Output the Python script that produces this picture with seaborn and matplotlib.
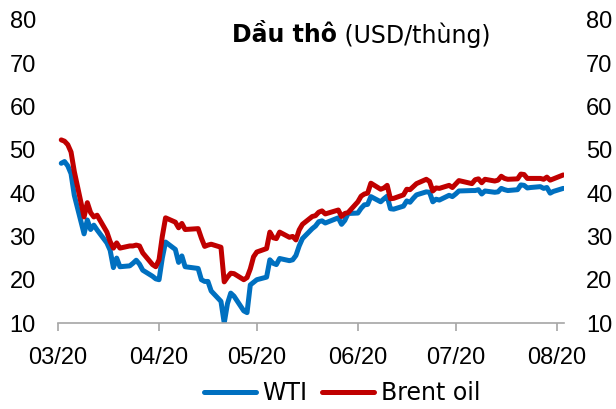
import pandas as pd
import matplotlib
matplotlib.use("Agg")
import matplotlib.pyplot as plt
import matplotlib.dates as mdates
import seaborn as sns

# trading days, Mar 2 - Aug 3 2020
dates = (
    ["2020-03-%02d" % d for d in [2, 3, 4, 5, 6, 9, 10, 11, 12, 13, 16, 17, 18, 19, 20, 23, 24, 25, 26, 27, 30, 31]]
    + ["2020-04-%02d" % d for d in [1, 2, 3, 6, 7, 8, 9, 13, 14, 15, 16, 17, 20, 21, 22, 23, 24, 27, 28, 29, 30]]
    + ["2020-05-%02d" % d for d in [1, 4, 5, 6, 7, 8, 11, 12, 13, 14, 15, 18, 19, 20, 21, 22, 26, 27, 28, 29]]
    + ["2020-06-%02d" % d for d in [1, 2, 3, 4, 5, 8, 9, 10, 11, 12, 15, 16, 17, 18, 19, 22, 23, 24, 25, 26, 29, 30]]
    + ["2020-07-%02d" % d for d in [1, 2, 6, 7, 8, 9, 10, 13, 14, 15, 16, 17, 20, 21, 22, 23, 24, 27, 28, 29, 30, 31]]
    + ["2020-08-03"]
)

wti = [
    46.9, 47.3, 46.3, 44.5, 39.5, 30.6, 33.8, 31.6, 32.6, 31.5, 28.5, 26.8, 22.8, 25.0, 23.0, 23.2, 23.8, 24.5, 23.6, 22.2, 20.8, 20.2,
    20.0, 25.0, 28.7, 27.0, 24.0, 25.5, 23.0, 22.6, 20.0, 19.6, 19.6, 17.4, 15.0, 10.0, 14.5, 16.9, 16.2, 12.8, 12.4, 18.8, 19.4,
    20.0, 20.6, 24.6, 23.8, 23.5, 24.9, 24.4, 24.6, 25.6, 27.8, 29.5, 31.8, 32.4, 33.4, 33.6, 33.1, 34.3, 32.8, 33.7, 35.3,
    35.4, 36.5, 37.3, 37.4, 39.2, 38.0, 38.7, 39.3, 36.4, 36.3, 37.0, 38.2, 37.9, 38.8, 39.6, 40.3, 40.2, 38.0, 38.6, 38.4, 39.5, 39.2,
    39.8, 40.5, 40.6, 40.6, 40.8, 39.8, 40.5, 40.2, 40.3, 41.1, 40.8, 40.6, 40.8, 41.9, 41.8, 41.2, 41.3, 41.5, 41.1, 41.3, 40.0, 40.4,
    41.1,
]

brent = [
    52.3, 52.0, 51.2, 49.5, 45.0, 34.5, 37.8, 35.5, 34.5, 34.9, 31.0, 28.8, 27.3, 28.5, 27.3, 27.8, 27.8, 28.0, 27.8, 26.2, 23.5, 23.0,
    24.6, 30.0, 34.3, 33.3, 32.0, 33.0, 31.6, 31.8, 29.6, 27.7, 28.0, 28.2, 27.5, 19.5, 20.6, 21.5, 21.4, 20.0, 20.5, 22.5, 25.3,
    26.4, 27.2, 31.0, 29.7, 29.5, 31.0, 29.8, 30.0, 29.2, 31.5, 32.8, 34.6, 34.8, 35.6, 35.9, 35.2, 36.1, 34.6, 35.3, 35.5,
    38.0, 39.3, 39.8, 40.0, 42.3, 40.9, 41.2, 41.8, 38.7, 38.8, 39.6, 40.9, 40.8, 41.5, 42.2, 43.2, 42.7, 40.5, 41.2, 41.1, 41.8, 41.3,
    42.1, 42.9, 42.2, 43.1, 43.3, 42.4, 43.2, 42.8, 43.0, 43.9, 43.4, 43.2, 43.3, 44.4, 44.3, 43.4, 43.4, 43.4, 43.2, 43.7, 43.0, 43.3,
    44.2,
]

series_names = ["WTI", "Brent oil"]
colors = ["#0070C0", "#C00000"]
y_ticks = [10, 20, 30, 40, 50, 60, 70, 80]

df = pd.DataFrame({"date": pd.to_datetime(dates), "WTI": wti, "Brent oil": brent})
long_df = df.melt(id_vars="date", var_name="series", value_name="price")

sns.set_theme(style="white")
plt.rcParams["font.family"] = ["Liberation Sans", "DejaVu Sans"]
plt.rcParams["text.color"] = "black"

fig = plt.figure(figsize=(6.16, 4.09), dpi=100)
ax = fig.add_axes([58 / 616, 1 - 323 / 409, (564 - 58) / 616, (323 - 20) / 409])

sns.lineplot(
    data=long_df,
    x="date",
    y="price",
    hue="series",
    hue_order=series_names,
    palette=colors,
    linewidth=3.6,
    ax=ax,
)
for line in ax.lines:
    line.set_solid_joinstyle("round")
    line.set_solid_capstyle("round")

ax.set_xlim(pd.Timestamp("2020-03-01"), pd.Timestamp("2020-08-03 06:00"))
ax.set_ylim(10, 80)
ax.set_yticks(y_ticks)
ax.set_xlabel("")
ax.set_ylabel("")

ax.xaxis.set_major_locator(mdates.MonthLocator())
ax.xaxis.set_major_formatter(mdates.DateFormatter("%m/%y"))

for side in ["top", "left", "right"]:
    ax.spines[side].set_visible(False)
ax.spines["bottom"].set_color("#a6a6a6")
ax.spines["bottom"].set_linewidth(1.2)

ax.tick_params(axis="x", bottom=True, length=6, width=1.2, color="#a6a6a6",
               labelsize=17, pad=11, labelcolor="black")
ax.tick_params(axis="y", left=False, right=False, length=0, labelleft=True, labelright=True,
               labelsize=17, pad=16, labelcolor="black")

t1 = fig.text(232 / 616, 1 - 35 / 409, "Dầu thô", fontsize=17, fontweight="bold",
              va="center", ha="left", family="DejaVu Sans", color="black")
ax.annotate(" (USD/thùng)", xy=(1, 0.5), xycoords=t1, va="center", ha="left",
            fontsize=17, family="DejaVu Sans", color="black", annotation_clip=False)

handles, labels = ax.get_legend_handles_labels()
leg = ax.legend(handles, labels, loc="center", bbox_to_anchor=(342 / 616, 1 - 393 / 409),
                bbox_transform=fig.transFigure, ncol=2, frameon=False,
                prop={"family": "DejaVu Sans", "size": 17},
                handlelength=2.2, handletextpad=0.3, columnspacing=0.6)
for txt in leg.get_texts():
    txt.set_color("black")

fig.savefig("out.png", dpi=100)
